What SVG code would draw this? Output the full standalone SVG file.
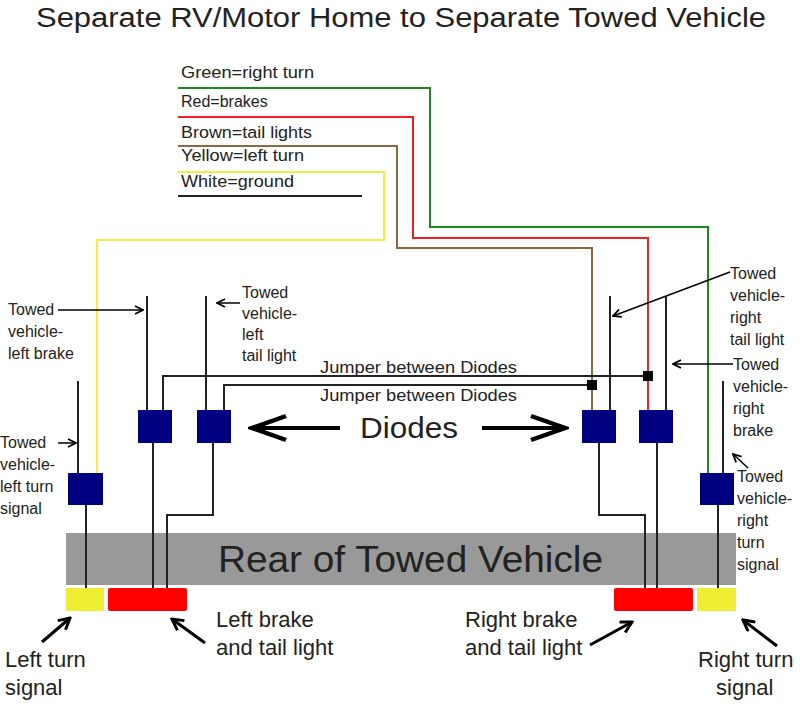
<svg xmlns="http://www.w3.org/2000/svg" width="800" height="704" viewBox="0 0 800 704">
<defs>
<marker id="a" markerWidth="10" markerHeight="10" refX="9" refY="5" orient="auto" markerUnits="userSpaceOnUse"><path d="M1,1 L9,5 L1,9" fill="none" stroke="#000" stroke-width="1.8"/></marker>
<marker id="b" markerWidth="14" markerHeight="14" refX="12" refY="7" orient="auto" markerUnits="userSpaceOnUse"><path d="M1,1 L12,7 L1,13" fill="none" stroke="#000" stroke-width="3"/></marker>
<marker id="d" markerWidth="40" markerHeight="30" refX="36" refY="15" orient="auto" markerUnits="userSpaceOnUse"><path d="M2,3 L36,15 L2,27" fill="none" stroke="#000" stroke-width="4.5"/></marker>
</defs>
<style>
text{font-family:"Liberation Sans",Arial,sans-serif;fill:#222}
.s{font-size:16px}
.m{font-size:16px}
.l{font-size:22px}
.w{fill:none;stroke:#222;stroke-width:2}
.box{fill:#000080}
.pt{stroke:#000;stroke-width:1.5;fill:none}
</style>
<rect width="800" height="704" fill="#fff"/>
<text x="36" y="27" font-size="27" textLength="730" lengthAdjust="spacingAndGlyphs">Separate RV/Motor Home to Separate Towed Vehicle</text>
<g id="legend" class="m">
<text x="181" y="78" textLength="133" lengthAdjust="spacingAndGlyphs">Green=right turn</text>
<text x="181" y="107">Red=brakes</text>
<text x="181" y="138" textLength="131" lengthAdjust="spacingAndGlyphs">Brown=tail lights</text>
<text x="181" y="161" textLength="123" lengthAdjust="spacingAndGlyphs">Yellow=left turn</text>
<text x="181" y="187" textLength="113" lengthAdjust="spacingAndGlyphs">White=ground</text>
</g>
<g id="rear"><rect x="66" y="533" width="670" height="52" fill="#999"/>
<text x="218" y="572" font-size="36" textLength="385" lengthAdjust="spacingAndGlyphs">Rear of Towed Vehicle</text></g>
<g id="connectors">
<polyline points="178,88 430,88 430,227 708,227 708,473" fill="none" stroke="#1a8a1a" stroke-width="2"/>
<polyline points="178,117 413,117 413,238 648,238 648,410" fill="none" stroke="#e22" stroke-width="2"/>
<polyline points="178,146 397,146 397,248 592,248 592,410" fill="none" stroke="#8a6a40" stroke-width="2"/>
<polyline points="178,172 384,172 384,240 97,240 97,473" fill="none" stroke="#eeee44" stroke-width="2"/>
<line x1="178" y1="196" x2="362" y2="196" stroke="#222" stroke-width="2"/>
<line class="w" x1="147" y1="296" x2="147" y2="410"/>
<line class="w" x1="206" y1="296" x2="206" y2="410"/>
<line class="w" x1="78" y1="381" x2="78" y2="473"/>
<line class="w" x1="610" y1="296" x2="610" y2="410"/>
<line class="w" x1="666" y1="296" x2="666" y2="410"/>
<line class="w" x1="723" y1="381" x2="723" y2="473"/>
<polyline class="w" points="163,410 163,376 648,376"/>
<polyline class="w" points="224,410 224,385 592,385"/>
<rect x="587" y="380" width="10" height="10" fill="#000"/>
<rect x="643" y="371" width="10" height="10" fill="#000"/>
<line class="w" x1="86" y1="505" x2="86" y2="590"/>
<line class="w" x1="153" y1="443" x2="153" y2="590"/>
<polyline class="w" points="213,443 213,515 167,515 167,590"/>
<polyline class="w" points="599,443 599,515 645,515 645,590"/>
<line class="w" x1="657" y1="443" x2="657" y2="590"/>
<line class="w" x1="718" y1="505" x2="718" y2="590"/>
<line class="pt" x1="58" y1="310" x2="143" y2="310" marker-end="url(#a)"/>
<line class="pt" x1="240" y1="303" x2="217" y2="303" marker-end="url(#a)"/>
<line class="pt" x1="58" y1="443" x2="76" y2="443" marker-end="url(#a)"/>
<line class="pt" x1="730" y1="272" x2="613" y2="316" marker-end="url(#a)"/>
<line class="pt" x1="733" y1="364" x2="673" y2="364" marker-end="url(#a)"/>
<line class="pt" x1="748" y1="468" x2="733" y2="454" marker-end="url(#a)"/>
<line x1="340" y1="428" x2="252" y2="428" stroke="#000" stroke-width="4" marker-end="url(#d)"/>
<line x1="482" y1="428" x2="565" y2="428" stroke="#000" stroke-width="4" marker-end="url(#d)"/>
<line x1="42" y1="642" x2="70" y2="618" stroke="#000" stroke-width="3" marker-end="url(#b)"/>
<line x1="205" y1="643" x2="172" y2="619" stroke="#000" stroke-width="3" marker-end="url(#b)"/>
<line x1="590" y1="645" x2="632" y2="622" stroke="#000" stroke-width="3" marker-end="url(#b)"/>
<line x1="777" y1="646" x2="743" y2="620" stroke="#000" stroke-width="3" marker-end="url(#b)"/>
</g>
<g id="diodes">
<rect class="box" x="68" y="473" width="35" height="32"/>
<rect class="box" x="138" y="410" width="34" height="33"/>
<rect class="box" x="197" y="410" width="34" height="33"/>
<rect class="box" x="582" y="410" width="34" height="33"/>
<rect class="box" x="639" y="410" width="34" height="33"/>
<rect class="box" x="700" y="473" width="34" height="32"/>
</g>
<g id="lights">
<rect x="66" y="588" width="38" height="23" fill="#eeee33"/>
<rect x="108" y="588" width="79" height="23" fill="#f00" rx="2"/>
<rect x="614" y="588" width="79" height="23" fill="#f00" rx="2"/>
<rect x="697" y="588" width="39" height="23" fill="#eeee33"/>
</g>
<g id="labels" class="s">
<text x="8" y="315">Towed</text><text x="8" y="337">vehicle-</text><text x="8" y="359">left brake</text>
<text x="242" y="298">Towed</text><text x="242" y="319">vehicle-</text><text x="242" y="340">left</text><text x="242" y="361">tail light</text>
<text x="0" y="448">Towed</text><text x="0" y="470">vehicle-</text><text x="0" y="492">left turn</text><text x="0" y="514">signal</text>
<text x="730" y="279">Towed</text><text x="730" y="301">vehicle-</text><text x="730" y="323">right</text><text x="730" y="345">tail light</text>
<text x="733" y="370">Towed</text><text x="733" y="392">vehicle-</text><text x="733" y="414">right</text><text x="733" y="436">brake</text>
<text x="737" y="482">Towed</text><text x="737" y="504">vehicle-</text><text x="737" y="526">right</text><text x="737" y="548">turn</text><text x="737" y="570">signal</text>
<text x="320" y="373" textLength="197" lengthAdjust="spacingAndGlyphs">Jumper between Diodes</text>
<text x="320" y="401" textLength="197" lengthAdjust="spacingAndGlyphs">Jumper between Diodes</text>
</g>
<text x="360" y="438" font-size="30" textLength="98" lengthAdjust="spacingAndGlyphs">Diodes</text>
<g id="bottom" class="l">
<text x="5" y="667">Left turn</text><text x="5" y="695">signal</text>
<text x="216" y="627">Left brake</text><text x="216" y="655">and tail light</text>
<text x="465" y="627">Right brake</text><text x="465" y="655">and tail light</text>
<text x="698" y="667">Right turn</text><text x="716" y="695">signal</text>
</g>
</svg>
